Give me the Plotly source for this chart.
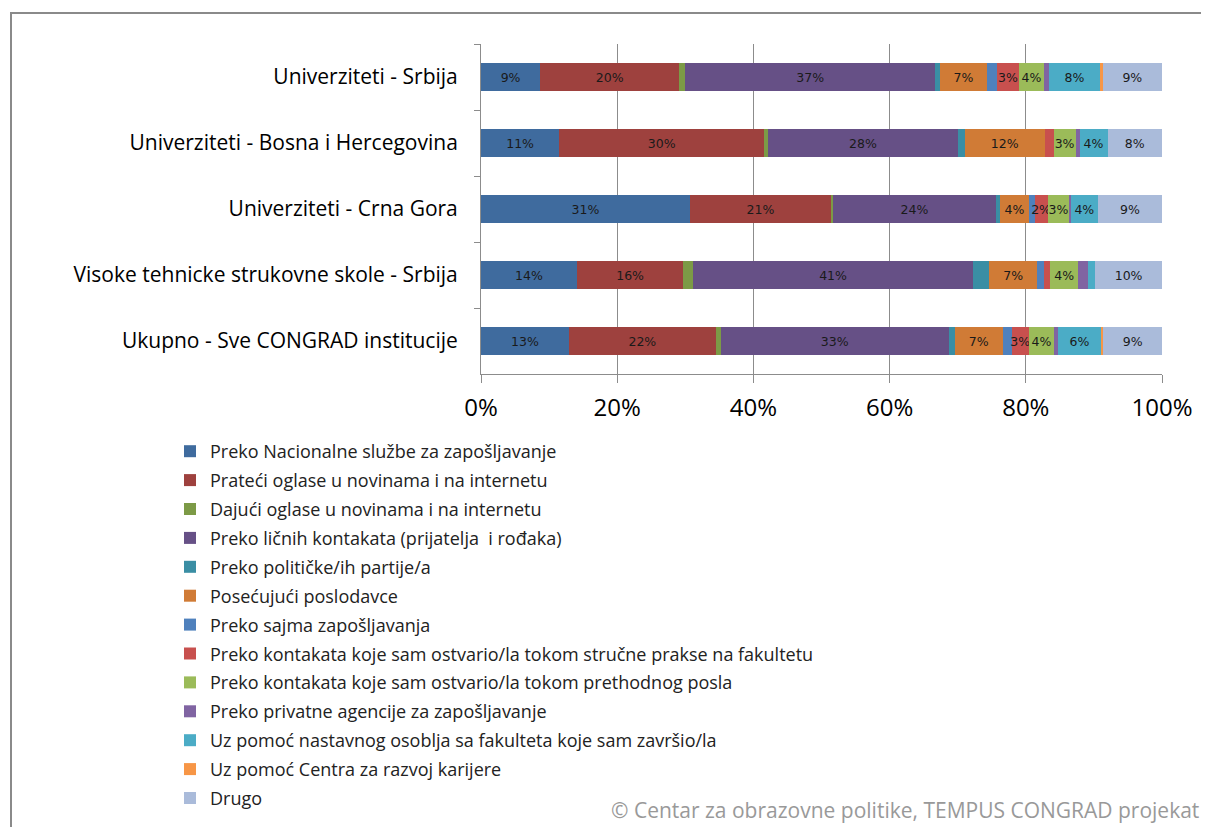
import plotly.graph_objects as go

categories = [
    "Univerziteti - Srbija",
    "Univerziteti - Bosna i Hercegovina",
    "Univerziteti - Crna Gora",
    "Visoke tehnicke strukovne skole - Srbija",
    "Ukupno - Sve CONGRAD institucije",
]

series_names = [
    "Preko Nacionalne službe za zapošljavanje",
    "Prateći oglase u novinama i na internetu",
    "Dajući oglase u novinama i na internetu",
    "Preko ličnih kontakata (prijatelja  i rođaka)",
    "Preko političke/ih partije/a",
    "Posećujući poslodavce",
    "Preko sajma zapošljavanja",
    "Preko kontakata koje sam ostvario/la tokom stručne prakse na fakultetu",
    "Preko kontakata koje sam ostvario/la tokom prethodnog posla",
    "Preko privatne agencije za zapošljavanje",
    "Uz pomoć nastavnog osoblja sa fakulteta koje sam završio/la",
    "Uz pomoć Centra za razvoj karijere",
    "Drugo",
]

colors = [
    "#3F6B9E", "#9E413E", "#7C9A46", "#665086", "#3A8EA4", "#D07B36",
    "#4F81BD", "#C8504E", "#9BBB59", "#8064A2", "#4BACC6", "#F79646",
    "#AABBDA",
]

# values (%) per series, in category order
v_nacionalna = [8.7, 11.5, 30.7, 14.1, 12.9]
v_prateci = [20.4, 30.1, 20.7, 15.6, 21.6]
v_dajuci = [0.9, 0.6, 0.3, 1.4, 0.7]
v_licni = [36.7, 27.8, 23.9, 41.2, 33.5]
v_politicke = [0.7, 1.0, 0.6, 2.3, 0.9]
v_posecujuci = [6.9, 11.8, 4.3, 7.1, 7.0]
v_sajam = [1.5, 0.0, 0.8, 0.9, 1.3]
v_praksa = [3.2, 1.3, 1.9, 1.0, 2.6]
v_prethodni = [3.7, 3.2, 3.2, 4.1, 3.6]
v_agencija = [0.7, 0.6, 0.2, 1.5, 0.6]
v_nastavno = [7.5, 4.1, 4.0, 1.0, 6.4]
v_centar = [0.4, 0.0, 0.0, 0.0, 0.3]
v_drugo = [8.7, 8.0, 9.4, 9.8, 8.6]

values = [v_nacionalna, v_prateci, v_dajuci, v_licni, v_politicke, v_posecujuci,
          v_sajam, v_praksa, v_prethodni, v_agencija, v_nastavno, v_centar, v_drugo]

# data labels shown in the chart (empty = no label)
labels = [
    ["9%", "11%", "31%", "14%", "13%"],
    ["20%", "30%", "21%", "16%", "22%"],
    ["", "", "", "", ""],
    ["37%", "28%", "24%", "41%", "33%"],
    ["", "", "", "", ""],
    ["7%", "12%", "4%", "7%", "7%"],
    ["", "", "", "", ""],
    ["3%", "", "2%", "", "3%"],
    ["4%", "3%", "3%", "4%", "4%"],
    ["", "", "", "", ""],
    ["8%", "4%", "4%", "", "6%"],
    ["", "", "", "", ""],
    ["9%", "8%", "9%", "10%", "9%"],
]

x_ticks = [0, 20, 40, 60, 80, 100]
x_ticklabels = ["0%", "20%", "40%", "60%", "80%", "100%"]

OFF = 8  # page body margin
W, H = 1209 - OFF, 827 - OFF
L, R, T, B = 481 - OFF, 1162 - OFF, 44 - OFF, 374 - OFF

def px_x(p):
    return (p - OFF - L) / (R - L)

def px_y(p):
    return (B - (p - OFF)) / (B - T)

fig = go.Figure()
for i, name in enumerate(series_names):
    fig.add_trace(go.Bar(
        y=categories, x=values[i], name=name, orientation="h",
        marker=dict(color=colors[i], line=dict(width=0)),
        text=labels[i], texttemplate="%{text}", textposition="inside",
        insidetextanchor="middle", constraintext="none", textangle=0,
        textfont=dict(family="DejaVu Sans", size=12.5, color="#1a1a1a"),
        legendgroup="g%d" % i,
    ))

fig.update_layout(
    width=W, height=H,
    margin=dict(l=L, r=W - R, t=T, b=H - B, autoexpand=False),
    barmode="stack", bargap=0.59,
    paper_bgcolor="white", plot_bgcolor="white",
    uniformtext=dict(minsize=12.5, mode="show"),
    font=dict(family="Open Sans", color="#000000"),
    xaxis=dict(
        range=[0, 100], tickvals=x_ticks, ticktext=x_ticklabels,
        showgrid=True, gridcolor="#8c8c8c", gridwidth=1,
        showline=True, linecolor="#8c8c8c", linewidth=1,
        ticks="outside", ticklen=8, tickcolor="#8c8c8c",
        tickfont=dict(family="Open Sans", size=24, color="#000"),
        ticklabelstandoff=4,
        zeroline=False, fixedrange=True,
    ),
    yaxis=dict(
        categoryorder="array", categoryarray=categories, autorange="reversed",
        showline=True, linecolor="#8c8c8c", linewidth=1,
        ticks="outside", ticklen=6, tickcolor="#8c8c8c", tickson="boundaries",
        tickfont=dict(family="Open Sans", size=21, color="#000"),
        ticklabelstandoff=18, showgrid=False, fixedrange=True,
    ),
    legend=dict(
        x=px_x(170), y=px_y(433), xanchor="left", yanchor="top",
        traceorder="grouped", tracegroupgap=2.5,
        font=dict(family="Open Sans", size=18, color="#222"),
        bgcolor="rgba(0,0,0,0)", itemwidth=30,
    ),
    shapes=[dict(
        type="rect", xref="paper", yref="paper",
        x0=px_x(11), x1=px_x(1215), y0=px_y(835), y1=px_y(13),
        line=dict(color="#8a8a8a", width=2), fillcolor="rgba(0,0,0,0)",
        layer="below",
    )],
    annotations=[dict(
        text="© Centar za obrazovne politike, TEMPUS CONGRAD projekat",
        xref="paper", yref="paper", x=px_x(1201), y=px_y(810),
        xanchor="right", yanchor="middle", showarrow=False,
        font=dict(family="Open Sans", size=21, color="#999999"),
    )],
)

fig.write_html("out.html")
